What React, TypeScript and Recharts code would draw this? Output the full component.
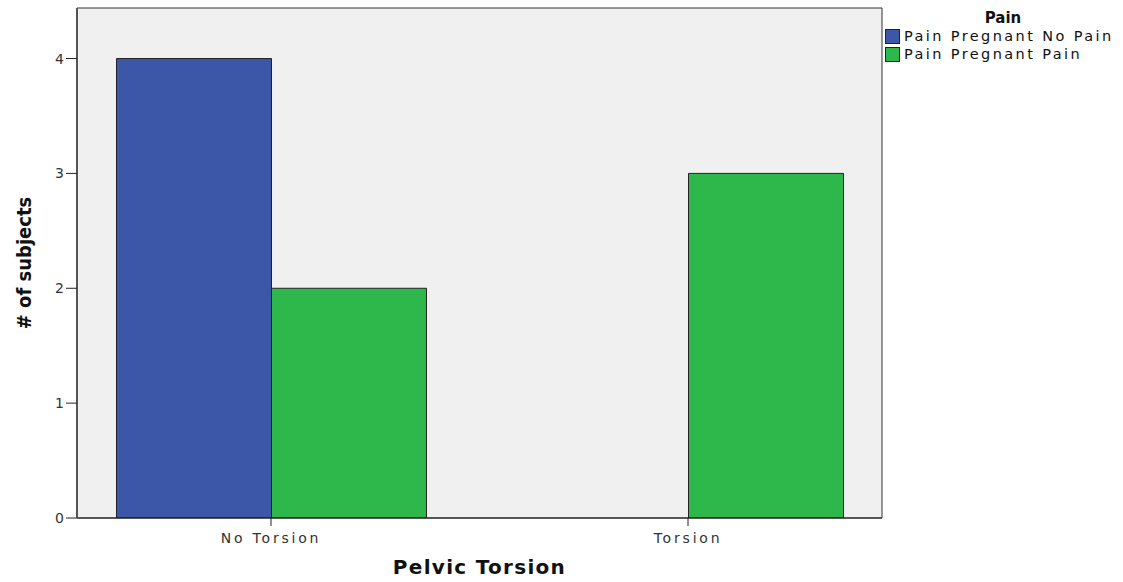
import { BarChart, Bar, XAxis, YAxis, CartesianGrid } from 'recharts';

const categories = ['No Torsion', 'Torsion'];
const noPain = [4, 0];
const pain = [2, 3];
const yTicks = [0, 1, 2, 3, 4];
const legendTitle = 'Pain';
const seriesNames = ['Pain Pregnant No Pain', 'Pain Pregnant Pain'];

const data = categories.map((c, i) => ({ name: c, noPain: noPain[i], pain: pain[i] }));

const BLUE = '#3c56a8';
const GREEN = '#2eb84b';
const FONT = '"DejaVu Sans", Verdana, sans-serif';

function PainLegend() {
  const colors = [BLUE, GREEN];
  return (
    <div style={{ position: 'absolute', left: 885, top: 9, width: 236, fontFamily: FONT, color: '#111' }}>
      <div style={{ textAlign: 'center', fontWeight: 'bold', fontSize: 15, lineHeight: '18px' }}>{legendTitle}</div>
      {seriesNames.map((label, i) => (
        <div key={label} style={{ display: 'flex', alignItems: 'center', height: 18 }}>
          <span style={{ width: 13, height: 13, background: colors[i], border: '1px solid #222', marginRight: 4, display: 'inline-block' }} />
          <span style={{ fontSize: 14.5, letterSpacing: 2.4, whiteSpace: 'nowrap' }}>{label}</span>
        </div>
      ))}
    </div>
  );
}

export default function App() {
  return (
    <div style={{ position: 'absolute', left: 0, top: 0, width: 1123, height: 582, background: '#fff' }}>
      <BarChart
        width={1123}
        height={582}
        data={data}
        margin={{ top: 7, right: 240, left: 17, bottom: 34 }}
        barCategoryGap={54}
        barGap={0}
      >
        <CartesianGrid horizontal={false} vertical={false} fill="#f0f0f0" />
        <XAxis
          dataKey="name"
          padding={{ left: -14.5, right: -14.5 }}
          height={30}
          tickSize={8}
          axisLine={{ stroke: '#222', strokeWidth: 1.5 }}
          tickLine={{ stroke: '#222' }}
          tick={{ fontSize: 14, fill: '#333', fontFamily: FONT, letterSpacing: 2.8, dy: 5 }}
          label={{ value: 'Pelvic Torsion', position: 'insideBottom', offset: -26, fontSize: 20, fontWeight: 'bold', fill: '#111', fontFamily: FONT, letterSpacing: 1.3 }}
        />
        <XAxis xAxisId="top" orientation="top" dataKey="name" height={1} tick={false} tickLine={false} axisLine={{ stroke: '#333' }} />
        <YAxis
          domain={[0, 4.44]}
          ticks={yTicks}
          width={60}
          tickSize={11}
          allowDataOverflow
          axisLine={{ stroke: '#555', strokeWidth: 2 }}
          tickLine={{ stroke: '#222' }}
          tick={{ fontSize: 14, fill: '#333', fontFamily: FONT }}
          label={{ value: '# of subjects', angle: -90, position: 'insideLeft', offset: 7, fontSize: 20, fontWeight: 'bold', fill: '#111', fontFamily: '"DejaVu Sans Condensed", "DejaVu Sans", sans-serif', style: { textAnchor: 'middle' } }}
        />
        <YAxis yAxisId="right" orientation="right" domain={[0, 4.44]} width={1} tick={false} tickLine={false} axisLine={{ stroke: '#333' }} />
        <Bar dataKey="noPain" name={seriesNames[0]} fill={BLUE} stroke="#222" strokeWidth={1} isAnimationActive={false} />
        <Bar dataKey="pain" name={seriesNames[1]} fill={GREEN} stroke="#222" strokeWidth={1} isAnimationActive={false} />
      </BarChart>
      <PainLegend />
    </div>
  );
}
